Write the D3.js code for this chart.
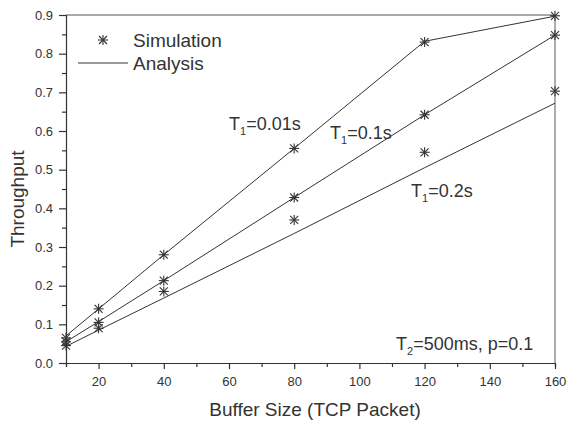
<!DOCTYPE html>
<html>
<head>
<meta charset="utf-8">
<title>Throughput vs buffer size</title>
<script src="https://cdnjs.cloudflare.com/ajax/libs/d3/7.8.5/d3.min.js"></script>
<style>
  body { margin: 0; background: #fff; }
  text { font-family: "Liberation Sans", Arial, sans-serif; fill: #333; }
</style>
</head>
<body>
<script>
// buffer sizes (TCP packets)
var bufferSizes = [10, 20, 40, 80, 120, 160];

// simulation points
var simT001 = [0.065, 0.140, 0.280, 0.555, 0.830, 0.898];
var simT01  = [0.055, 0.105, 0.213, 0.428, 0.642, 0.848];
var simT02  = [0.045, 0.090, 0.185, 0.370, 0.545, 0.703];

// analysis curves
var anT001 = [0.070, 0.140, 0.280, 0.555, 0.832, 0.897];
var anT01  = [0.055, 0.107, 0.213, 0.428, 0.642, 0.848];
var anT02  = [0.043, 0.085, 0.168, 0.335, 0.505, 0.672];

var xTicks = [20, 40, 60, 80, 100, 120, 140, 160];
var yTicks = [0.0, 0.1, 0.2, 0.3, 0.4, 0.5, 0.6, 0.7, 0.8, 0.9];

var w = 568, h = 427;
var m = { left: 66, right: 13, top: 15, bottom: 64 };

var svg = d3.select('body').append('svg')
  .attr('width', w)
  .attr('height', h);

var x = d3.scaleLinear().domain([10, 160]).range([m.left, w - m.right]);
var y = d3.scaleLinear().domain([0, 0.9]).range([h - m.bottom, m.top]);

// frame: top and right
svg.append('line')
  .attr('x1', x(10)).attr('x2', x(160))
  .attr('y1', y(0.9)).attr('y2', y(0.9))
  .attr('stroke', '#555').attr('stroke-width', 1.2);
svg.append('line')
  .attr('x1', x(160)).attr('x2', x(160))
  .attr('y1', y(0.9)).attr('y2', y(0))
  .attr('stroke', '#999').attr('stroke-width', 1.6);

// x axis
var xAxis = svg.append('g')
  .attr('transform', 'translate(0,' + y(0) + ')');
xAxis.call(d3.axisBottom(x).tickValues(d3.range(10, 161, 10)).tickSize(4).tickFormat(''));
xAxis.call(function(g) {
  g.selectAll('.tick line').attr('y2', function(d) { return d % 20 === 0 ? 6 : 4; });
});
svg.append('g')
  .attr('transform', 'translate(0,' + y(0) + ')')
  .call(d3.axisBottom(x).tickValues(xTicks).tickSize(0).tickPadding(14))
  .call(function(g) { g.select('.domain').remove(); });

// y axis
var yAxis = svg.append('g')
  .attr('transform', 'translate(' + x(10) + ',0)');
yAxis.call(d3.axisLeft(y).tickValues(d3.range(0, 0.91, 0.05)).tickFormat(''));
yAxis.call(function(g) {
  g.selectAll('.tick line').attr('x2', function(d, i) { return i % 2 === 0 ? -7 : -4; });
});
svg.append('g')
  .attr('transform', 'translate(' + x(10) + ',0)')
  .call(d3.axisLeft(y).tickValues(yTicks).tickSize(0).tickPadding(13).tickFormat(d3.format('.1f')))
  .call(function(g) { g.select('.domain').remove(); });

svg.selectAll('.domain, .tick line').attr('stroke', '#333').attr('stroke-width', 1.2);
svg.selectAll('.tick text').style('font-size', '13px').attr('fill', '#333');

// axis titles
svg.append('text')
  .attr('x', 315)
  .attr('y', 416)
  .attr('text-anchor', 'middle')
  .style('font-size', '19px')
  .text('Buffer Size (TCP Packet)');
svg.append('text')
  .attr('transform', 'translate(24,199) rotate(-90)')
  .attr('text-anchor', 'middle')
  .style('font-size', '19px')
  .text('Throughput');

// analysis lines
var line = d3.line()
  .x(function(d, i) { return x(bufferSizes[i]); })
  .y(function(d) { return y(d); });

[anT001, anT01, anT02].forEach(function(s) {
  svg.append('path')
    .attr('d', line(s))
    .attr('fill', 'none')
    .attr('stroke', '#333')
    .attr('stroke-width', 1);
});

// asterisk marker
function star(g, cx, cy) {
  var r = 5;
  var s = g.append('g').attr('transform', 'translate(' + cx + ',' + cy + ')')
    .attr('stroke', '#333').attr('stroke-width', 1.1);
  s.append('line').attr('x1', -r).attr('x2', r).attr('y1', 0).attr('y2', 0);
  s.append('line').attr('x1', 0).attr('x2', 0).attr('y1', -r).attr('y2', r);
  s.append('line').attr('x1', -r * 0.8).attr('x2', r * 0.8).attr('y1', -r * 0.8).attr('y2', r * 0.8);
  s.append('line').attr('x1', -r * 0.8).attr('x2', r * 0.8).attr('y1', r * 0.8).attr('y2', -r * 0.8);
}

[simT001, simT01, simT02].forEach(function(s) {
  s.forEach(function(v, i) { star(svg, x(bufferSizes[i]), y(v)); });
});

// annotations
function label(tx, ty, sub, rest) {
  var t = svg.append('text').attr('x', tx).attr('y', ty).style('font-size', '18px');
  t.append('tspan').text('T');
  t.append('tspan').attr('dy', 5).style('font-size', '11px').text(sub);
  t.append('tspan').attr('dy', -5).text(rest);
}
label(229, 130, '1', '=0.01s');
label(330, 139, '1', '=0.1s');
label(411, 197, '1', '=0.2s');
label(396, 350, '2', '=500ms, p=0.1');

// legend
star(svg, 103, 40);
svg.append('text').attr('x', 133).attr('y', 47).style('font-size', '19px').text('Simulation');
svg.append('line')
  .attr('x1', 78).attr('x2', 128).attr('y1', 63).attr('y2', 63)
  .attr('stroke', '#333').attr('stroke-width', 1);
svg.append('text').attr('x', 133).attr('y', 70).style('font-size', '19px').text('Analysis');
</script>
</body>
</html>
